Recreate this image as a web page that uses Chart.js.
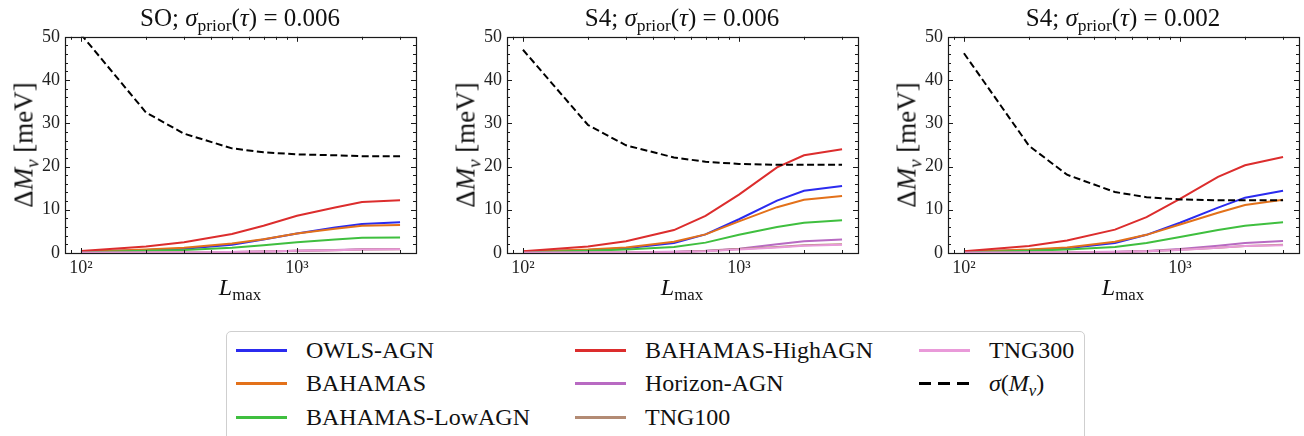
<!DOCTYPE html>
<html>
<head>
<meta charset="utf-8">
<script src="https://cdn.jsdelivr.net/npm/chart.js@4.4.1/dist/chart.umd.min.js"></script>
<style>
  html, body { margin: 0; padding: 0; background: #fff; }
  body { width: 1304px; height: 436px; position: relative; overflow: hidden; font-family: "Liberation Serif", serif; color: #111; }
  canvas { position: absolute; }
  .lbl { position: absolute; white-space: nowrap; line-height: 1; }
  .lbl sub { font-size: 70%; vertical-align: -0.3em; line-height: 0; }
  .title { font-size: 25px; transform: translateX(-50%); }
  .ylab { font-size: 27px; transform: translate(-50%, -50%) rotate(-90deg); }
  .xlab { font-size: 24px; transform: translateX(-50%); }
  .legend { position: absolute; left: 226px; top: 331px; width: 859px; height: 130px; border: 1px solid #cfcfcf; border-radius: 5px; box-sizing: border-box; }
  .item { position: absolute; font-size: 24px; white-space: nowrap; line-height: 1; }
  .item sub { font-size: 70%; vertical-align: -0.3em; line-height: 0; }
  .sw { position: absolute; width: 51px; height: 3px; }
</style>
</head>
<body>
<canvas id="c1" width="415" height="272"></canvas>
<canvas id="c2" width="415" height="272"></canvas>
<canvas id="c3" width="415" height="272"></canvas>
<div id="labels"></div>
<div class="legend" id="legend"></div>

<script>
// multipoles
const lmax = [100, 200, 300, 500, 700, 1000, 1500, 2000, 3000];

// SO; sigma_prior(tau) = 0.006
const owlsSO    = [0.3, 0.7, 1.0, 1.9, 3.1, 4.5, 5.9, 6.7, 7.1];
const bahamasSO = [0.3, 0.8, 1.2, 2.2, 3.2, 4.5, 5.6, 6.3, 6.5];
const lowSO     = [0.2, 0.5, 0.7, 1.2, 1.8, 2.5, 3.1, 3.5, 3.6];
const highSO    = [0.45, 1.5, 2.5, 4.4, 6.3, 8.6, 10.5, 11.8, 12.2];
const horizonSO = [0.05, 0.1, 0.15, 0.25, 0.35, 0.5, 0.7, 0.85, 0.9];
const tng100SO  = [0.05, 0.1, 0.15, 0.25, 0.35, 0.5, 0.65, 0.8, 0.85];
const tng300SO  = [0.05, 0.1, 0.15, 0.25, 0.35, 0.5, 0.65, 0.8, 0.85];
const sigmaSO   = [50.6, 32.5, 27.6, 24.2, 23.3, 22.8, 22.6, 22.4, 22.4];

// S4; sigma_prior(tau) = 0.006
const owlsS4a    = [0.3, 0.7, 1.1, 2.3, 4.3, 7.8, 12.1, 14.4, 15.5];
const bahamasS4a = [0.3, 0.8, 1.3, 2.6, 4.3, 7.3, 10.6, 12.3, 13.2];
const lowS4a     = [0.2, 0.5, 0.8, 1.4, 2.4, 4.2, 6.0, 7.0, 7.6];
const highS4a    = [0.4, 1.5, 2.7, 5.3, 8.6, 13.5, 19.8, 22.6, 24.0];
const horizonS4a = [0.05, 0.1, 0.15, 0.3, 0.5, 1.0, 2.0, 2.7, 3.1];
const tng100S4a  = [0.05, 0.1, 0.15, 0.25, 0.45, 0.9, 1.4, 1.8, 2.0];
const tng300S4a  = [0.05, 0.1, 0.15, 0.25, 0.4, 0.8, 1.3, 1.7, 1.9];
const sigmaS4a   = [47.0, 29.6, 24.9, 22.1, 21.1, 20.6, 20.4, 20.4, 20.4];

// S4; sigma_prior(tau) = 0.002
const owlsS4b    = [0.3, 0.7, 1.1, 2.3, 4.2, 7.0, 10.5, 12.8, 14.4];
const bahamasS4b = [0.3, 0.8, 1.3, 2.6, 4.2, 6.6, 9.3, 11.1, 12.3];
const lowS4b     = [0.2, 0.5, 0.8, 1.4, 2.3, 3.7, 5.3, 6.3, 7.1];
const highS4b    = [0.4, 1.6, 2.9, 5.4, 8.3, 12.5, 17.6, 20.3, 22.2];
const horizonS4b = [0.05, 0.1, 0.15, 0.3, 0.45, 0.9, 1.7, 2.3, 2.8];
const tng100S4b  = [0.05, 0.1, 0.15, 0.25, 0.4, 0.75, 1.2, 1.6, 1.9];
const tng300S4b  = [0.05, 0.1, 0.15, 0.25, 0.4, 0.7, 1.2, 1.6, 1.8];
const sigmaS4b   = [46.2, 24.8, 18.1, 14.1, 12.9, 12.4, 12.2, 12.2, 12.2];

const names  = ["OWLS-AGN", "BAHAMAS", "BAHAMAS-LowAGN", "BAHAMAS-HighAGN", "Horizon-AGN", "TNG100", "TNG300"];
const colors = ["#2b2bef", "#e3711a", "#3fbf3f", "#dc2d2d", "#b86ac2", "#b38b74", "#e99ad9"];

const yTicks = [0, 10, 20, 30, 40, 50];

const panels = [
  { id: "c1", plotLeft: 65,  title: "SO", tau: "0.006", series: [owlsSO, bahamasSO, lowSO, highSO, horizonSO, tng100SO, tng300SO], sigma: sigmaSO },
  { id: "c2", plotLeft: 507, title: "S4", tau: "0.006", series: [owlsS4a, bahamasS4a, lowS4a, highS4a, horizonS4a, tng100S4a, tng300S4a], sigma: sigmaS4a },
  { id: "c3", plotLeft: 948, title: "S4", tau: "0.002", series: [owlsS4b, bahamasS4b, lowS4b, highS4b, horizonS4b, tng100S4b, tng300S4b], sigma: sigmaS4b }
];

// x range like matplotlib's 5% margins on a log axis
const lo = Math.log10(lmax[0]), hi = Math.log10(lmax[lmax.length - 1]);
const xMin = Math.pow(10, lo - 0.05 * (hi - lo));
const xMax = Math.pow(10, hi + 0.05 * (hi - lo));

// frame + inward ticks on all four sides
const frameTicks = {
  id: "frameTicks",
  afterDraw(chart) {
    const { ctx, chartArea: a, scales: { x, y } } = chart;
    ctx.save();
    ctx.strokeStyle = "#1a1a1a";
    ctx.lineWidth = 1;
    ctx.beginPath();
    for (let v = 0; v <= 50; v += 2) {
      const p = Math.round(y.getPixelForValue(v)) + 0.5;
      const len = v % 10 === 0 ? 5 : 3;
      ctx.moveTo(a.left, p); ctx.lineTo(a.left + len, p);
      ctx.moveTo(a.right, p); ctx.lineTo(a.right - len, p);
    }
    for (let e = 1; e <= 3; e++) {
      for (let s = 1; s <= 9; s++) {
        const v = s * Math.pow(10, e);
        if (v < xMin || v > xMax) continue;
        const p = Math.round(x.getPixelForValue(v)) + 0.5;
        const len = s === 1 ? 5 : 3;
        ctx.moveTo(p, a.bottom); ctx.lineTo(p, a.bottom - len);
        ctx.moveTo(p, a.top); ctx.lineTo(p, a.top + len);
      }
    }
    ctx.stroke();
    ctx.lineWidth = 1.2;
    ctx.strokeRect(Math.round(a.left) + 0.5, Math.round(a.top) + 0.5, Math.round(a.right - a.left), Math.round(a.bottom - a.top));
    ctx.restore();
  }
};

panels.forEach(panel => {
  const canvas = document.getElementById(panel.id);
  canvas.style.left = (panel.plotLeft - 60) + "px";
  canvas.style.top = "21px";

  let datasets = panel.series.map((s, i) => ({
    label: names[i],
    data: lmax.map((l, k) => ({ x: l, y: s[k] })),
    borderColor: colors[i],
    borderWidth: 2,
    pointRadius: 0,
    tension: 0,
    order: 8 - i
  }));
  datasets.push({
    label: "sigma",
    data: lmax.map((l, k) => ({ x: l, y: panel.sigma[k] })),
    borderColor: "#000",
    borderWidth: 2,
    borderDash: [7, 3.5],
    pointRadius: 0,
    tension: 0,
    order: 0
  });

  new Chart(canvas.getContext("2d"), {
    type: "line",
    data: { datasets: datasets },
    options: {
      responsive: false,
      animation: false,
      devicePixelRatio: 1,
      layout: { padding: { top: 12, right: 4, left: 0, bottom: 0 } },
      plugins: { legend: { display: false }, tooltip: { enabled: false }, title: { display: false } },
      scales: {
        x: {
          type: "logarithmic",
          min: xMin,
          max: xMax,
          grid: { display: false, drawTicks: false },
          border: { display: false },
          afterFit: s => { s.height = 40; },
          ticks: {
            autoSkip: false,
            maxRotation: 0,
            padding: 4,
            color: "#222",
            font: { family: "Liberation Serif", size: 18 },
            callback: v => Math.abs(v - 100) < 1e-6 ? "10²" : (Math.abs(v - 1000) < 1e-6 ? "10³" : "")
          }
        },
        y: {
          min: 0,
          max: 50,
          grid: { display: false, drawTicks: false },
          border: { display: false },
          afterFit: s => { s.width = 60; },
          afterBuildTicks: s => { s.ticks = yTicks.map(v => ({ value: v })); },
          ticks: {
            padding: 5,
            color: "#222",
            font: { family: "Liberation Serif", size: 18 }
          }
        }
      }
    },
    plugins: [frameTicks]
  });

  // titles and axis labels
  const cx = panel.plotLeft + 175;
  const lab = document.getElementById("labels");
  lab.insertAdjacentHTML("beforeend",
    `<div class="lbl title" style="left:${cx}px;top:5px">${panel.title}; <i>σ</i><sub>prior</sub>(<i>τ</i>) = ${panel.tau}</div>` +
    `<div class="lbl ylab" style="left:${panel.plotLeft - 41}px;top:145px">Δ<i>M</i><sub><i>ν</i></sub> [meV]</div>` +
    `<div class="lbl xlab" style="left:${cx}px;top:275px"><i>L</i><sub>max</sub></div>`);
});

// legend, column-major like the original
const legendPos = [
  [9, 18], [9, 51], [9, 85],
  [348, 18], [348, 51], [348, 85],
  [692, 18]
];
const legend = document.getElementById("legend");
names.forEach((n, i) => {
  const [x, y] = legendPos[i];
  legend.insertAdjacentHTML("beforeend",
    `<div class="sw" style="left:${x}px;top:${y - 1}px;background:${colors[i]}"></div>` +
    `<div class="item" style="left:${x + 70}px;top:${y - 12}px">${n}</div>`);
});
legend.insertAdjacentHTML("beforeend",
  `<div class="sw" style="left:692px;top:50px;background:repeating-linear-gradient(90deg,#000 0 12px,transparent 12px 19px)"></div>` +
  `<div class="item" style="left:762px;top:39px"><i>σ</i>(<i>M</i><sub><i>ν</i></sub>)</div>`);
</script>
</body>
</html>
